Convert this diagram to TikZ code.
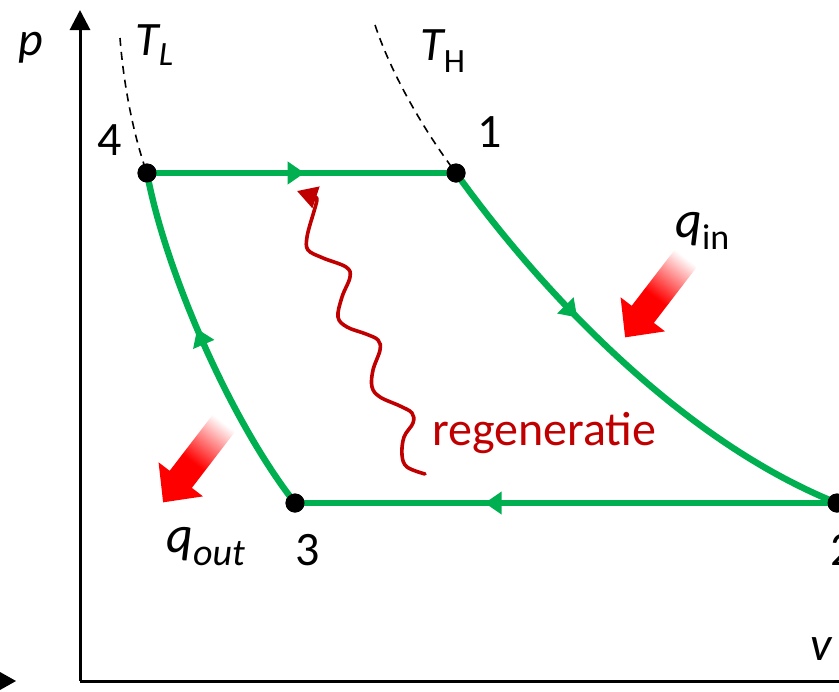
\documentclass[tikz,border=0pt]{standalone}
\usepackage{fontspec}
\setmainfont{Carlito}
\usetikzlibrary{arrows.meta,decorations.markings,calc}
\definecolor{cgreen}{HTML}{00B050}
\definecolor{cred}{HTML}{C00000}
\begin{document}
\begin{tikzpicture}[x=0.5pt,y=-0.5pt,
  cyc/.style={cgreen,line width=3.2pt},
  midarrow/.style={postaction={decorate},decoration={markings,mark=at position #1 with {\arrow{Triangle[length=8.5pt,width=11pt]}}}},
  statept/.style={circle,fill=black,inner sep=0pt,minimum size=9.5pt},
  lbl/.style={font=\fontsize{24}{28}\selectfont,inner sep=0pt,anchor=base west},
  iso/.style={line width=0.8pt,dash pattern=on 4pt off 3pt},
  ax/.style={line width=1.5pt},
  wave/.style={cred,line width=1.8pt,line cap=round,line join=round},
  heat/.style={left color=white,right color=red,middle color=red}]
\useasboundingbox (0,0) rectangle (839,691);
% axes
\coordinate (O) at (80,681);
\coordinate (ytop) at (80,10);
\coordinate (xend) at (845,681);
\draw[ax,-{Triangle[length=10pt,width=10pt]}] (O) -- (ytop);
\draw[ax] (O) -- (xend);
\fill (0,672) -- (16,681) -- (0,690) -- cycle;
% state points
\node[statept] (p1) at (456,173) {};
\node[statept] (p2) at (837,503) {};
\node[statept] (p3) at (295,503) {};
\node[statept] (p4) at (147,173) {};
% isotherms
\coordinate (tl0) at (120,38);
\coordinate (th0) at (375,25);
\draw[iso] (tl0) .. controls (124,90) and (135,140) .. (p4.center);
\draw[iso] (th0) .. controls (390,70) and (420,125) .. (p1.center);
% cycle
\draw[cyc,midarrow=0.51] (p4.center) -- (p1.center);
\draw[cyc,midarrow=0.37] (p1.center) .. controls (540,290) and (680,440) .. (p2.center);
\draw[cyc,midarrow=0.65] (p2.center) -- (p3.center);
\draw[cyc,midarrow=0.55] (p3.center) .. controls (230,420) and (165,270) .. (p4.center);
\node[statept] at (p1) {};
\node[statept] at (p2) {};
\node[statept] at (p3) {};
\node[statept] at (p4) {};
% labels
\node[lbl] (plab) at (18,55) {\itshape p};
\node[lbl] (TL) at (135,55) {\itshape T\raisebox{-5pt}{\fontsize{17}{20}\selectfont L}};
\node[lbl] (TH) at (420,60) {\itshape T\raisebox{-6pt}{\fontsize{17}{20}\selectfont\upshape H}};
\node[lbl] (l1) at (477,147) {1};
\node[lbl] (l4) at (97,155) {4};
\node[lbl] (l3) at (295,565) {3};
\node[lbl] (l2) at (830,565) {2};
\node[lbl] (lv) at (810,660) {\itshape v};
\node[lbl,text=cred] (reg) at (432,445) {regeneratie};
\node[lbl,font=\fontsize{26}{30}\selectfont] (qin) at (675,237) {\itshape q\raisebox{-6pt}{\fontsize{18}{20}\selectfont\upshape in}};
\node[lbl,font=\fontsize{26}{30}\selectfont] (qout) at (166,552) {\itshape q\raisebox{-6.5pt}{\fontsize{19}{20}\selectfont out}};
% heat arrows
\begin{scope}[transform canvas={shift={(686,258)},rotate=232.5}]
\shade[heat] (0pt,-7pt) -- (35.5pt,-7pt) -- (35.5pt,-14pt) -- (50pt,0pt) -- (35.5pt,14pt) -- (35.5pt,7pt) -- (0pt,7pt) -- cycle;
\end{scope}
\begin{scope}[transform canvas={shift={(224,423)},rotate=232.5}]
\shade[heat] (0pt,-7pt) -- (35.5pt,-7pt) -- (35.5pt,-14pt) -- (50pt,0pt) -- (35.5pt,14pt) -- (35.5pt,7pt) -- (0pt,7pt) -- cycle;
\end{scope}
% regeneration wave
\coordinate (ws) at (425,474);
\coordinate (wm) at (312,218);
\coordinate (we) at (297,191);
\draw[wave] plot[smooth,tension=0.6] coordinates {(425,474) (407,467) (402,455) (404,437) (413,423) (412,413) (400,406) (380,397) (372,387) (373,370) (380,350) (378,340) (366,334) (347,327) (338,317) (342,297) (350,277) (346,267) (323,258) (308,250) (307,237) (312,218)};
\draw[wave,-{Triangle[length=10pt,width=11pt]}] (wm) .. controls (318,198) .. (we);
\end{tikzpicture}
\end{document}
